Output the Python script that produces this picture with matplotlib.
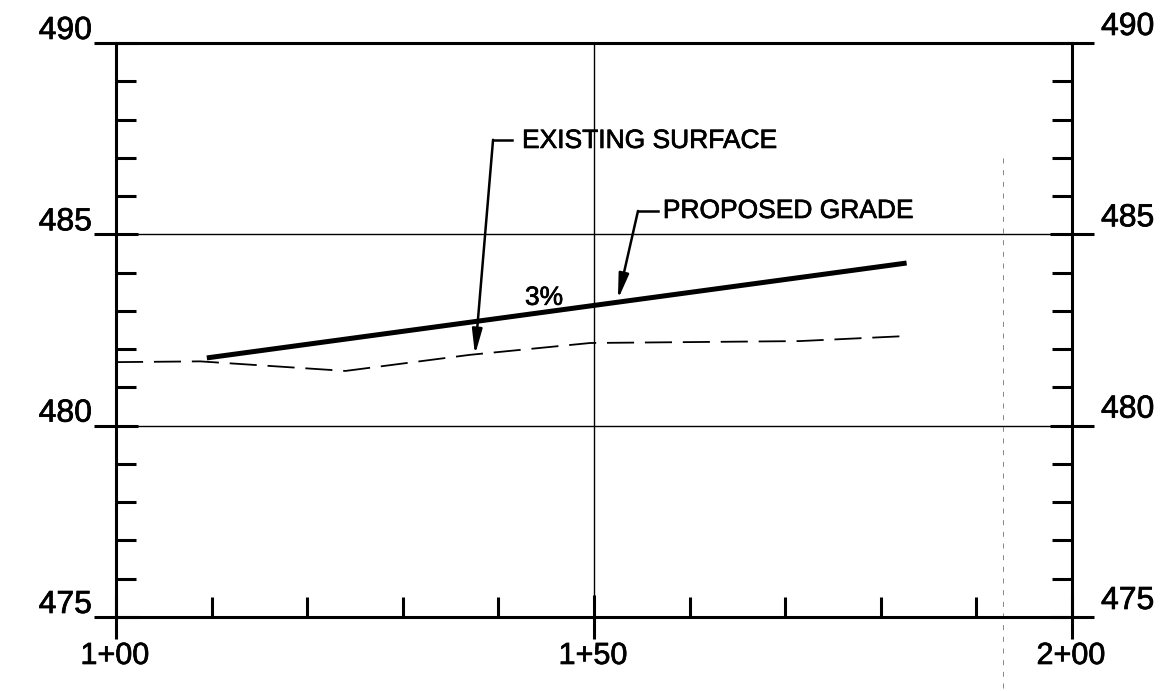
import numpy as np
import matplotlib.pyplot as plt
import matplotlib.patheffects as pe
from matplotlib.ticker import MultipleLocator

plt.rcParams['font.family'] = ['Liberation Sans', 'DejaVu Sans']

# profile data (station in ft, elevation in ft)
grade_sta = [109.5, 182.7]
grade_elev = [481.77, 484.25]

exist_sta = [100.0, 108.8, 124.0, 137.0, 149.6, 171.5, 182.5]
exist_elev = [481.66, 481.68, 481.43, 481.85, 482.16, 482.21, 482.34]

# faint scan line on the right
scan_sta = [192.8, 192.8]
scan_elev = [487.0, 473.1]

y_major = [475, 480, 485, 490]
x_major = [100, 150, 200]
x_labels = ['1+00', '1+50', '2+00']

# scanned text looks a bit heavier than plain Arial
heavy = [pe.withStroke(linewidth=0.5, foreground='black')]

fig = plt.figure(figsize=(11.73, 6.91), dpi=100)
ax = fig.add_axes([0.0989, 0.1071, 0.9139 - 0.0989, 0.9378 - 0.1071])
ax.set_xlim(100, 200)
ax.set_ylim(475, 490)

for s in ax.spines.values():
    s.set_linewidth(2.2)

ax.set_xticks(x_major)
ax.set_yticks(y_major)
ax.xaxis.set_minor_locator(MultipleLocator(10))
ax.yaxis.set_minor_locator(MultipleLocator(1))
ax.set_xticklabels([])
ax.set_yticklabels([])
ax.tick_params(which='major', direction='inout', length=32, width=2.2,
               left=True, right=True, bottom=True, top=False)
ax.tick_params(which='minor', direction='in', length=14.5, width=2.2,
               left=True, right=True, bottom=True, top=False)
ax.grid(True, which='major', color='black', linewidth=1.0)

# tick labels
for v in y_major:
    ax.annotate(str(v), xy=(0, v), xycoords=('axes fraction', 'data'),
                xytext=(-24, 4), textcoords='offset pixels',
                ha='right', va='baseline', fontsize=23, path_effects=heavy)
    ax.annotate(str(v), xy=(1, v), xycoords=('axes fraction', 'data'),
                xytext=(29, 8), textcoords='offset pixels',
                ha='left', va='baseline', fontsize=23, path_effects=heavy)
for v, lab in zip(x_major, x_labels):
    ax.annotate(lab, xy=(v, 0), xycoords=('data', 'axes fraction'),
                xytext=(-1, -24), textcoords='offset pixels',
                ha='center', va='top', fontsize=22, path_effects=heavy)

# profiles
ax.plot(grade_sta, grade_elev, color='black', linewidth=3.6, solid_capstyle='butt')
ax.plot(exist_sta, exist_elev, color='black', linewidth=1.3, dashes=(15, 6))
ax.plot(scan_sta, scan_elev, color='0.45', linewidth=0.6, dashes=(6, 8), clip_on=False)

# callouts
arrow = dict(arrowstyle='-|>,head_length=1.5,head_width=0.3',
             color='black', linewidth=1.8, shrinkA=0, shrinkB=0)

ax.plot([139.44, 141.42], [487.47, 487.47], color='black', linewidth=1.8)
ax.annotate('', xy=(137.55, 481.85), xytext=(139.44, 487.47), arrowprops=arrow)
ax.text(142.47, 487.44, 'EXISTING SURFACE', fontsize=19, ha='left', va='center',
        path_effects=heavy)

ax.plot([154.6, 156.7], [485.61, 485.61], color='black', linewidth=1.8)
ax.annotate('', xy=(152.5, 483.3), xytext=(154.6, 485.61), arrowprops=arrow)
ax.text(157.2, 485.61, 'PROPOSED GRADE', fontsize=19, ha='left', va='center',
        path_effects=heavy)

ax.text(144.77, 483.34, '3%', fontsize=19, ha='center', va='center', path_effects=heavy)

plt.savefig('out.png', dpi=100)
